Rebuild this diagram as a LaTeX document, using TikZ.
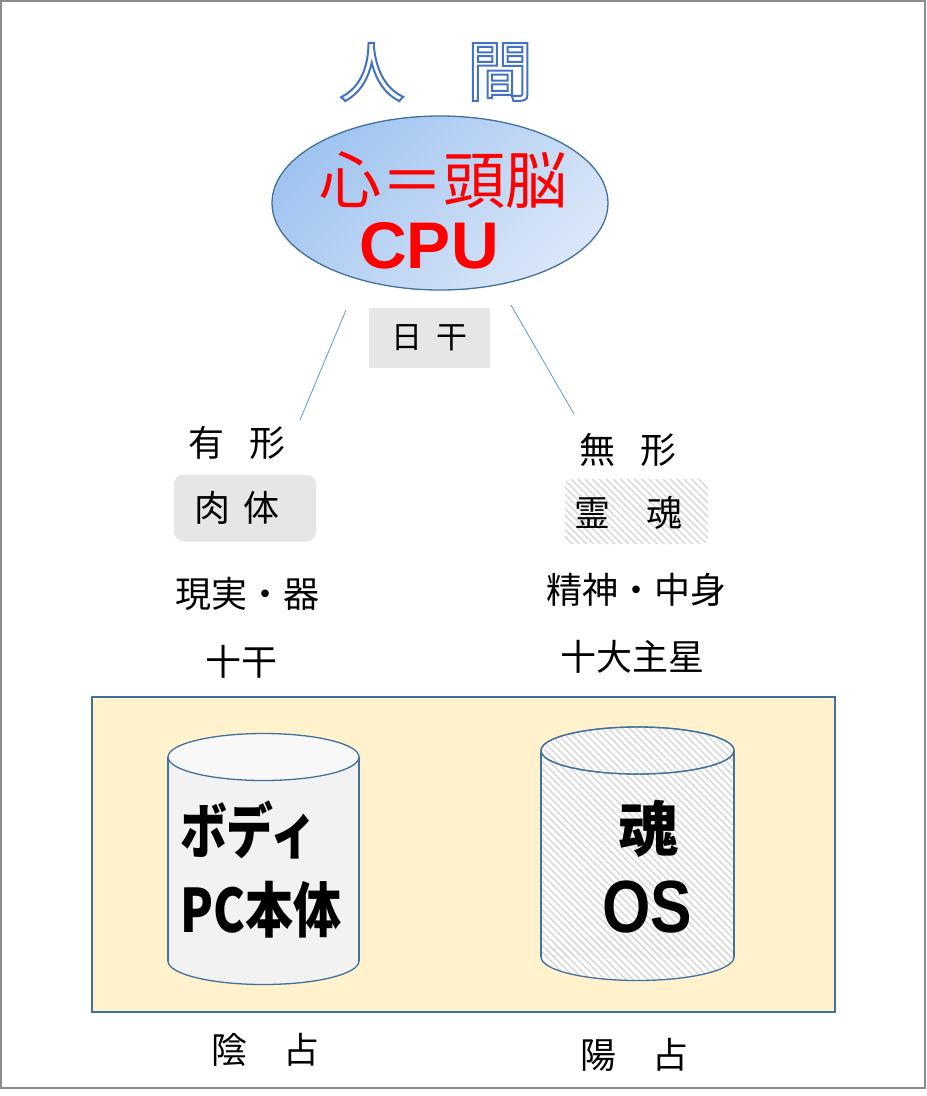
\documentclass[tikz,border=0pt]{standalone}
\usepackage{fontspec}
\newfontfamily\jp{Noto Sans CJK JP}
\newfontfamily\lsans{Liberation Sans}
\usetikzlibrary{shapes.geometric,patterns.meta}
\definecolor{edgeblue}{RGB}{65,113,156}
\definecolor{lineblue}{RGB}{91,155,213}
\definecolor{titleblue}{RGB}{68,114,196}
\definecolor{ellA}{RGB}{160,196,240}
\definecolor{ellB}{RGB}{218,230,248}
\definecolor{graybox}{RGB}{230,230,230}
\definecolor{cream}{RGB}{255,242,204}
\definecolor{bodygray}{RGB}{242,242,242}
\definecolor{topgray}{RGB}{248,248,248}
\definecolor{hatch}{RGB}{218,218,218}
\definecolor{framegray}{RGB}{140,140,140}
\newcommand\outlinedtxt[1]{{\color{white}\special{pdf:literal direct 2 Tr 2 w 0.267 0.447 0.769 RG}#1\special{pdf:literal direct 0 Tr}}}
\tikzset{
  jptext/.style={font=\jp\fontsize{36}{40}\selectfont, inner sep=0pt},
  titletext/.style={font=\jp\fontsize{66}{70}\selectfont, inner sep=0pt},
  bigtext/.style={font=\jp\bfseries\fontsize{60}{64}\selectfont, inner sep=0pt},
  connector/.style={draw=lineblue, line width=0.8pt},
  edgeline/.style={draw=edgeblue, line width=1.3pt},
  hatchfill/.style={pattern={Lines[angle=-45,distance=5pt,line width=1.6pt]}, pattern color=hatch},
}
\begin{document}
\begin{tikzpicture}[x=1pt,y=-1pt]
\useasboundingbox (0,0) rectangle (927,1096);
\draw[framegray, line width=1.5pt] (1,1) rectangle (925,1088);

% title
\node[titletext] (t1) at (372,72) {\outlinedtxt{人}};
\node[titletext] (t2) at (500,72) {\outlinedtxt{間}};

% CPU ellipse
\node[ellipse, edgeline, top color=ellA, bottom color=ellB, shading angle=45,
      minimum width=336pt, minimum height=174pt, inner sep=0pt] (brain) at (440,203) {};
\node[font=\jp\fontsize{62}{66}\selectfont, text=red, inner sep=0pt] (kokoro) at (443,180) {心＝頭脳};
\node[font=\lsans\bfseries\fontsize{66}{70}\selectfont, text=red, inner sep=0pt] (cpu) at (429,246) {CPU};

% nikkan box
\node[fill=graybox, minimum width=121pt, minimum height=60pt, inner sep=0pt,
      font=\jp\fontsize{31}{34}\selectfont] (nikkan) at (429.5,338) {日\hspace{0.45em}干};

% connectors
\coordinate (la) at (346,310);
\coordinate (lb) at (300,420);
\coordinate (ra) at (511,305);
\coordinate (rb) at (574,414);
\draw[connector] (la) -- (lb);
\draw[connector] (ra) -- (rb);

% left column
\node[jptext] (yukei) at (237,443) {有\hspace{0.7em}形};
\node[fill=graybox, rounded corners=10pt, minimum width=142pt, minimum height=67pt, inner sep=0pt] (nikutai box) at (245,508) {};
\node[jptext] (nikutai) at (237,508) {肉\hspace{0.35em}体};
\node[jptext] (genjitsu) at (247,594) {現実・器};
\node[jptext] (jikkan) at (241,662) {十干};

% right column
\node[jptext] (mukei) at (628,450) {無\hspace{0.7em}形};
\node[hatchfill, rounded corners=6pt, minimum width=143pt, minimum height=65pt, inner sep=0pt] (reikon box) at (636.5,511.5) {};
\node[jptext] (reikon) at (628,513) {霊\hspace{1em}魂};
\node[jptext] (seishin) at (636,590) {精神・中身};
\node[jptext] (judai) at (632,657) {十大主星};

% frame
\node[edgeline, fill=cream, minimum width=743pt, minimum height=315pt, inner sep=0pt] (pcframe) at (463.5,854.5) {};

% left cylinder
\fill[bodygray] (168,757) rectangle (359,961);
\fill[bodygray] (263.5,961) ellipse (95.5 and 23.5);
\begin{scope}
  \clip (150,961) rectangle (380,1000);
  \draw[edgeline] (263.5,961) ellipse (95.5 and 23.5);
\end{scope}
\draw[edgeline] (168,757) -- (168,961);
\draw[edgeline] (359,757) -- (359,961);
\filldraw[fill=topgray, edgeline] (263.5,757) ellipse (95.5 and 23.5);

% right cylinder
\fill[white] (541,750.5) rectangle (734,957);
\fill[white] (637.5,957) ellipse (96.5 and 23.5);
\fill[hatchfill] (541,750.5) rectangle (734,957);
\fill[hatchfill] (637.5,957) ellipse (96.5 and 23.5);
\begin{scope}
  \clip (520,957) rectangle (760,1000);
  \draw[edgeline] (637.5,957) ellipse (96.5 and 23.5);
\end{scope}
\draw[edgeline] (541,750.5) -- (541,957);
\draw[edgeline] (734,750.5) -- (734,957);
\filldraw[fill=white, edgeline] (637.5,750.5) ellipse (96.5 and 23.5);
\fill[hatchfill] (637.5,750.5) ellipse (96.5 and 23.5);
\draw[edgeline] (637.5,750.5) ellipse (96.5 and 23.5);

% cylinder texts
\node[bigtext, anchor=west, xscale=0.78] (body) at (180,830) {ボディ};
\node[bigtext, anchor=west, xscale=0.8] (pc) at (180,910) {PC本体};
\node[bigtext] (tamashii) at (648,829) {魂};
\node[font=\lsans\bfseries\fontsize{74}{78}\selectfont, inner sep=0pt, xscale=0.84] (os) at (647,907) {OS};

% bottom labels
\node[jptext] (inzen) at (265,1050) {陰\hspace{1em}占};
\node[jptext] (yozen) at (634,1055) {陽\hspace{1em}占};
\end{tikzpicture}
\end{document}
